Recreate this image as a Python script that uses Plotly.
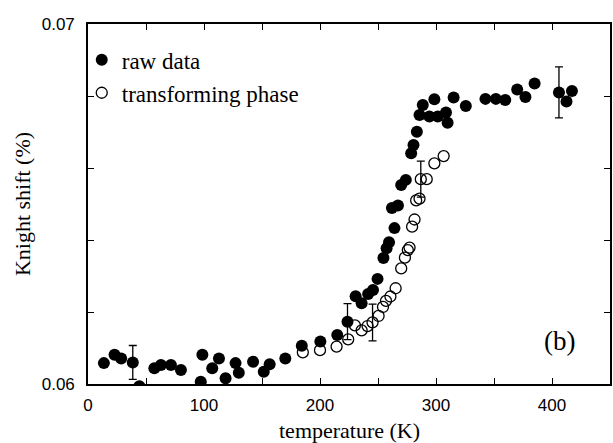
import plotly.graph_objects as go

# Knight shift vs temperature: raw data (filled) and transforming phase (open)
raw_T = [13.7, 22.9, 28.6, 38.6, 44.3, 57.2, 62.9, 71.5, 80.1, 97.2, 98.6, 107.1,
         112.9, 118.6, 127.2, 130.0, 142.3, 151.5, 156.6, 170.1, 184.3, 200.3, 214.9,
         223.7, 230.7, 235.9, 241.5, 245.7, 249.6, 254.7, 257.4, 259.5, 264.2, 262.0,
         267.2, 270.0, 274.0, 278.6, 280.6, 283.5, 285.8, 288.6, 294.3, 298.6, 301.5,
         308.6, 310.0, 315.2, 325.7, 342.6, 351.6, 359.7, 370.0, 377.1, 385.0, 406.0,
         412.5, 417.2]
raw_K = [0.06058, 0.06081, 0.06071, 0.06060, 0.05994, 0.06044, 0.06053, 0.06053,
         0.06039, 0.06006, 0.06081, 0.06044, 0.06071, 0.06016, 0.06058, 0.06031,
         0.06062, 0.06034, 0.06055, 0.06071, 0.06106, 0.06118, 0.06136, 0.06173,
         0.06244, 0.06224, 0.06250, 0.06261, 0.06292, 0.06350, 0.06377, 0.06394,
         0.06433, 0.06489, 0.06496, 0.06553, 0.06567, 0.06641, 0.06664, 0.06701,
         0.06747, 0.06775, 0.06743, 0.06791, 0.06743, 0.06754, 0.06726, 0.06796,
         0.06772, 0.06792, 0.06792, 0.06789, 0.06818, 0.06797, 0.06835, 0.06810,
         0.06785, 0.06814]

trans_T = [185.2, 200.0, 214.3, 224.3, 230.1, 235.9, 241.0, 245.3, 250.5, 254.3,
           256.9, 260.7, 265.2, 270.0, 273.2, 275.7, 277.2, 279.4, 281.5, 282.9,
           285.8, 286.9, 292.0, 298.6, 306.6]
trans_K = [0.06088, 0.06094, 0.06104, 0.06124, 0.06163, 0.06149, 0.06161, 0.06171,
           0.06189, 0.06214, 0.06231, 0.06243, 0.06266, 0.06321, 0.06351, 0.06372,
           0.06379, 0.06437, 0.06457, 0.06510, 0.06515, 0.06569, 0.06569, 0.06613,
           0.06633]

# representative error bars: (index into series, half-width)
raw_err = [(3, 0.00047), (23, 0.00050), (55, 0.00071)]
trans_err = [(7, 0.00051), (21, 0.00050)]

x_ticks = [0, 50, 100, 150, 200, 250, 300, 350, 400, 450]
x_labels = ["0", "", "100", "", "200", "", "300", "", "400", ""]
y_ticks = [0.060, 0.062, 0.064, 0.066, 0.068, 0.070]
y_labels = ["0.06", "", "", "", "", "0.07"]

serif = "Liberation Serif, Times New Roman, serif"
sans = "Liberation Sans, Arial, sans-serif"

fig = go.Figure()


def add_errors(T, K, errs):
    idx = [i for i, _ in errs]
    fig.add_trace(go.Scatter(
        x=[T[i] for i in idx], y=[K[i] for i in idx], mode="markers",
        marker=dict(size=1, opacity=0),
        error_y=dict(type="data", array=[e for _, e in errs], visible=True,
                     color="black", thickness=1.3, width=4),
        showlegend=False, hoverinfo="skip"))


add_errors(raw_T, raw_K, raw_err)
add_errors(trans_T, trans_K, trans_err)

fig.add_trace(go.Scatter(
    x=raw_T, y=raw_K, mode="markers", name="raw data", legendgroup="a",
    marker=dict(symbol="circle", size=12, color="black",
                line=dict(width=0))))
fig.add_trace(go.Scatter(
    x=trans_T, y=trans_K, mode="markers", name="transforming phase",
    legendgroup="b",
    marker=dict(symbol="circle-open", size=11, color="black",
                line=dict(width=1.3, color="black"))))

fig.add_annotation(x=406.4, y=0.06119, xref="x", yref="y", text="(b)",
                   showarrow=False, font=dict(family=serif, size=27, color="black"))

# x-axis title placed just under the tick labels
fig.add_annotation(x=0.5, y=-0.1278, xref="paper", yref="paper", text="temperature (K)",
                   showarrow=False, xanchor="center", yanchor="middle",
                   font=dict(family=serif, size=22, color="black"))

axis_common = dict(showline=True, linecolor="black", linewidth=1.6, mirror="ticks",
                   ticks="inside", ticklen=6, tickwidth=1.3, tickcolor="black",
                   showgrid=False, zeroline=False,
                   tickfont=dict(family=sans, size=17, color="black"))

fig.update_xaxes(range=[0, 450], tickvals=x_ticks, ticktext=x_labels,
                 ticklabelstandoff=5, **axis_common)
fig.update_yaxes(range=[0.06, 0.07], tickvals=y_ticks, ticktext=y_labels,
                 title=dict(text="Knight shift (%)", standoff=5,
                            font=dict(family=serif, size=22, color="black")),
                 ticklabelstandoff=8, **axis_common)

fig.update_layout(
    width=613, height=443,
    margin=dict(l=88, r=1, t=24, b=59),
    paper_bgcolor="white", plot_bgcolor="white",
    showlegend=True,
    legend=dict(x=-0.012, y=0.96, xanchor="left", yanchor="top",
                bgcolor="rgba(0,0,0,0)", borderwidth=0,
                font=dict(family=serif, size=23, color="black"),
                traceorder="grouped", tracegroupgap=0, itemwidth=30),
)

fig.write_html("out.html")
